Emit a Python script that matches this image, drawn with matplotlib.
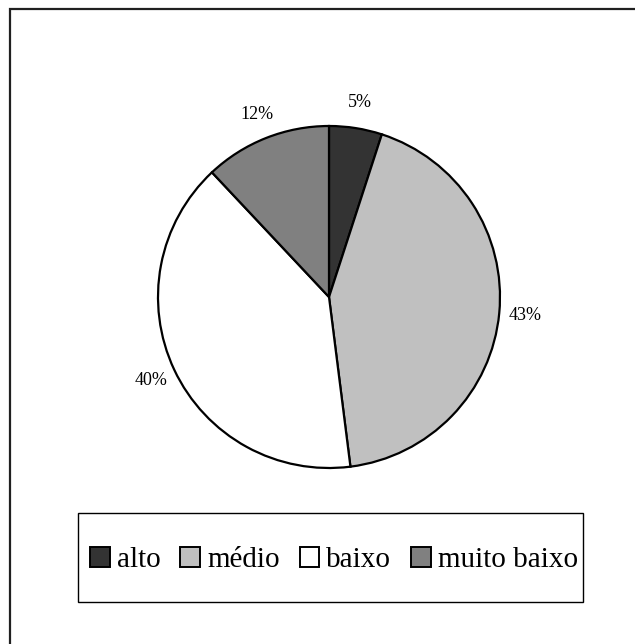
import matplotlib
matplotlib.use("Agg")
import matplotlib.pyplot as plt
from matplotlib.patches import Rectangle, Patch

plt.rcParams['font.family'] = ['Liberation Serif', 'DejaVu Serif']

categories = ["alto", "médio", "baixo", "muito baixo"]
shares = [5, 43, 40, 12]
colors = ["#333333", "#c0c0c0", "#ffffff", "#808080"]

W, H = 635, 644
fig = plt.figure(figsize=(W / 100, H / 100), dpi=100)

# outer chart frame (right and bottom edges run past the canvas)
fig.patches.append(Rectangle((9.5 / W, -0.05), 1.2, 1 - 8.5 / H + 0.05,
                             transform=fig.transFigure, fill=False,
                             edgecolor="#202020", linewidth=1.6, zorder=0))

cx, cy, r = 329, 297, 171
ax = fig.add_axes([(cx - r) / W, 1 - (cy + r) / H, 2 * r / W, 2 * r / H])
ax.axis("off")

wedges, _, autotexts = ax.pie(
    shares, colors=colors, startangle=90, counterclock=False, radius=1,
    autopct="%.0f%%", pctdistance=1.15,
    wedgeprops=dict(edgecolor="black", linewidth=1.6),
    textprops=dict(fontsize=13, color="black"))
for w in wedges:
    w.set_clip_on(False)
for t in autotexts:
    t.set_clip_on(False)
ax.set_xlim(-1, 1)
ax.set_ylim(-1, 1)
ax.set_aspect("equal")

# legend box drawn separately so its padding can differ horizontally/vertically
x0, x1, y0, y1 = 78, 583, 513, 602
fig.patches.append(Rectangle((x0 / W, 1 - y1 / H), (x1 - x0) / W, (y1 - y0) / H,
                             transform=fig.transFigure, facecolor="white",
                             edgecolor="black", linewidth=1.0, zorder=1))

handles = [Patch(facecolor=c, edgecolor="black", linewidth=1.4) for c in colors]
leg = fig.legend(handles, categories, loc="center",
                 bbox_to_anchor=(334 / W, 1 - 560 / H),
                 ncol=4, fontsize=21, frameon=False,
                 handlelength=0.68, handleheight=0.68, handletextpad=0.24,
                 columnspacing=0.68, borderpad=0, borderaxespad=0)
leg.set_zorder(2)

fig.savefig("out.png", dpi=100, facecolor="white")
